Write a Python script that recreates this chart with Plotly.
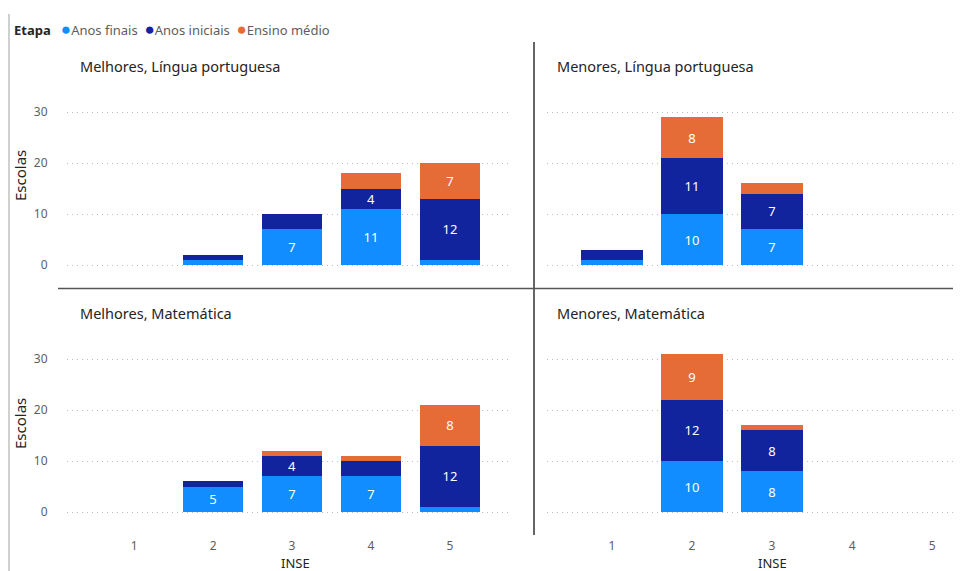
import plotly.graph_objects as go

# INSE levels (x axis)
inse = [1, 2, 3, 4, 5]

# Melhores, Língua portuguesa
mlp_finais = [0, 1, 7, 11, 1]
mlp_iniciais = [0, 1, 3, 4, 12]
mlp_medio = [0, 0, 0, 3, 7]

# Menores, Língua portuguesa
nlp_finais = [1, 10, 7, 0, 0]
nlp_iniciais = [2, 11, 7, 0, 0]
nlp_medio = [0, 8, 2, 0, 0]

# Melhores, Matemática
mmt_finais = [0, 5, 7, 7, 1]
mmt_iniciais = [0, 1, 4, 3, 12]
mmt_medio = [0, 0, 1, 1, 8]

# Menores, Matemática
nmt_finais = [0, 10, 8, 0, 0]
nmt_iniciais = [0, 12, 8, 0, 0]
nmt_medio = [0, 9, 1, 0, 0]

etapas = ["Anos finais", "Anos iniciais", "Ensino médio"]
cores = ["#118DFF", "#12239E", "#E66C37"]

titles = ["Melhores, Língua portuguesa", "Menores, Língua portuguesa",
          "Melhores, Matemática", "Menores, Matemática"]

W, H = 961, 571
OFF = 8  # page body margin in the browser
FONT = "Segoe UI, Noto Sans, sans-serif"


# screen pixel -> paper coords
def px(x):
    return (x - OFF) / W


def py(y):
    return 1 - (y - OFF) / H


panels = [
    ("x", "y", [mlp_finais, mlp_iniciais, mlp_medio]),
    ("x2", "y2", [nlp_finais, nlp_iniciais, nlp_medio]),
    ("x3", "y3", [mmt_finais, mmt_iniciais, mmt_medio]),
    ("x4", "y4", [nmt_finais, nmt_iniciais, nmt_medio]),
]

fig = go.Figure()
for xa, ya, series in panels:
    for name, cor, vals in zip(etapas, cores, series):
        fig.add_trace(go.Bar(
            x=inse, y=vals, name=name, marker_color=cor, marker_line_width=0,
            width=0.77, xaxis=xa, yaxis=ya, showlegend=False,
            text=[str(v) if v >= 4 else "" for v in vals],
            textposition="inside", insidetextanchor="middle", textangle=0,
            textfont=dict(color="white", size=13, family=FONT),
            hoverinfo="x+y+name",
        ))

top = [py(280.3), py(91.6)]
bot = [py(527.3), py(338.6)]
left = [px(67), px(510)]
right = [px(547), px(961)]

grid = dict(showgrid=True, gridcolor="#BDBDBD", griddash="1px,4px", gridwidth=1,
            zeroline=False, range=[-3, 34], tickvals=[0, 10, 20, 30],
            ticks="outside", ticklen=16, tickcolor="rgba(0,0,0,0)",
            tickfont=dict(size=12, color="#605E5C", family=FONT), showline=False)
xcommon = dict(showgrid=False, zeroline=False, showline=False, tickvals=inse,
               ticks="outside", ticklen=7, tickcolor="rgba(0,0,0,0)",
               tickfont=dict(size=12, color="#605E5C", family=FONT), fixedrange=True)

fig.update_layout(
    barmode="stack",
    width=W, height=H,
    margin=dict(l=0, r=0, t=0, b=0),
    paper_bgcolor="white", plot_bgcolor="white",
    font=dict(family=FONT),
    uniformtext=dict(minsize=13, mode="show"),
    xaxis=dict(domain=left, anchor="y", range=[0.15, 5.76], showticklabels=False, **xcommon),
    xaxis2=dict(domain=right, anchor="y2", range=[0.19, 5.36], showticklabels=False, **xcommon),
    xaxis3=dict(domain=left, anchor="y3", range=[0.15, 5.76], showticklabels=True, **xcommon),
    xaxis4=dict(domain=right, anchor="y4", range=[0.19, 5.36], showticklabels=True, **xcommon),
    yaxis=dict(domain=top, anchor="x", showticklabels=True, **grid),
    yaxis2=dict(domain=top, anchor="x2", showticklabels=False, **grid),
    yaxis3=dict(domain=bot, anchor="x3", showticklabels=True, **grid),
    yaxis4=dict(domain=bot, anchor="x4", showticklabels=False, **grid),
)

ann = []
for t, (x0, y0) in zip(titles, [(78, 66), (555, 66), (78, 313), (555, 313)]):
    ann.append(dict(text=t, x=px(x0), y=py(y0), xref="paper", yref="paper",
                    xanchor="left", yanchor="middle", showarrow=False,
                    font=dict(size=14.5, color="#252423", family=FONT)))
for yc in [176, 424]:
    ann.append(dict(text="Escolas", x=px(20), y=py(yc), xref="paper", yref="paper",
                    textangle=-90, xanchor="center", yanchor="middle", showarrow=False,
                    font=dict(size=15, color="#252423", family=FONT)))
for xc in [295, 772]:
    ann.append(dict(text="INSE", x=px(xc), y=py(563), xref="paper", yref="paper",
                    xanchor="center", yanchor="middle", showarrow=False,
                    font=dict(size=13, color="#252423", family=FONT)))

legend_txt = "<b>Etapa</b>   " + "  ".join(
    f"<span style='color:{c};font-size:17px'>●</span><span style='color:#605E5C'>{n}</span>"
    for n, c in zip(etapas, cores))
ann.append(dict(text=legend_txt, x=px(12), y=py(28), xref="paper", yref="paper",
                xanchor="left", yanchor="middle", showarrow=False,
                font=dict(size=13, color="#252423", family=FONT)))
fig.update_layout(annotations=ann)

# panel dividers and page border
fig.add_shape(type="line", xref="paper", yref="paper", x0=px(534), x1=px(534),
              y0=py(42), y1=py(535), line=dict(color="#333333", width=1.5))
fig.add_shape(type="line", xref="paper", yref="paper", x0=px(58), x1=px(961),
              y0=py(288.5), y1=py(288.5), line=dict(color="#555555", width=1.5))
fig.add_shape(type="line", xref="paper", yref="paper", x0=px(9), x1=px(9),
              y0=py(14), y1=py(571), line=dict(color="#B0B0B0", width=1.2))

fig.write_html("out.html")
